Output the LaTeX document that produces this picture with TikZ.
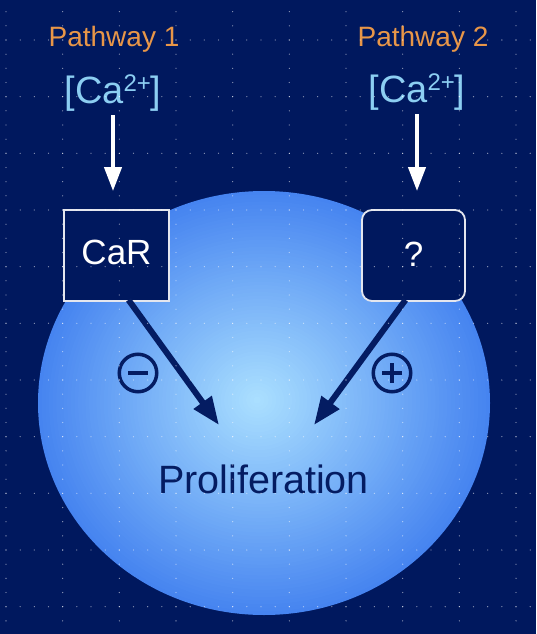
\documentclass[tikz,border=0pt]{standalone}
\usepackage{fontspec}
\setmainfont{Liberation Sans}
\usetikzlibrary{arrows.meta}
\definecolor{bgnavy}{RGB}{0,24,94}
\definecolor{ballout}{RGB}{70,132,240}
\definecolor{ballin}{RGB}{170,223,255}
\definecolor{orangetxt}{RGB}{232,150,72}
\definecolor{iontxt}{RGB}{140,206,242}
\definecolor{darkink}{RGB}{4,28,98}
\definecolor{boxline}{RGB}{228,230,238}
\newcommand\supion[1]{\raisebox{12pt}{\fontsize{24}{24}\selectfont #1}}
\begin{document}
\begin{tikzpicture}[x=1pt,y=-1pt,
  title/.style={font=\fontsize{28}{28}\selectfont, text=orangetxt, inner sep=0pt, anchor=base},
  ion/.style={font=\fontsize{38}{38}\selectfont, text=iontxt, inner sep=0pt, anchor=base},
  boxA/.style={draw=boxline, line width=1.8pt, fill=bgnavy, minimum width=105pt, minimum height=91pt, inner sep=0pt},
  boxB/.style={boxA, rounded corners=10pt, minimum width=103pt},
  boxtxt/.style={font=\fontsize{35}{35}\selectfont, text=white},
  prolif/.style={font=\fontsize{39.5}{39.5}\selectfont, text=darkink, inner sep=0pt, anchor=base},
  warrow/.style={draw=white, line width=4pt, -{Triangle[length=24pt, width=17pt]}},
  darrow/.style={draw=darkink, line width=6pt, -{Triangle[length=28pt, width=21pt]}},
  sign/.style={circle, draw=darkink, line width=3.5pt, minimum size=37.5pt, inner sep=0pt},
  signbar/.style={draw=darkink, line width=4pt},
  griddot/.style={fill=white, fill opacity=0.55}
]
\fill[bgnavy] (0,0) rectangle (536,634);
\useasboundingbox (0,0) rectangle (536,634);
% cell: stepped radial gradient
\foreach \i in {0,...,59}{
  \pgfmathsetmacro{\s}{1-\i/60}
  \pgfmathsetmacro{\p}{100*\i/59}
  \pgfmathsetmacro{\cx}{264-7*\i/60}
  \pgfmathsetmacro{\cy}{403-3*\i/60}
  \fill[ballin!\p!ballout] (\cx,\cy) ellipse [x radius={226*\s}, y radius={212*\s}];
}
% labels
\node[title] (p1) at (114,47) {Pathway 1};
\node[title] (p2) at (423,47) {Pathway 2};
\node[ion] (ca1) at (113,103) {[Ca\supion{2+}]};
\node[ion] (ca2) at (417,102) {[Ca\supion{2+}]};
% boxes
\node[boxA] (car) at (116.5,255.5) {};
\node[boxtxt, anchor=base] (cartxt) at (116.5,264.5) {CaR};
\node[boxB] (q) at (413.5,255.5) {};
\node[boxtxt, anchor=base] (qtxt) at (413.5,266) {?};
% white arrows
\draw[warrow, shorten <=4pt, shorten >=18pt] (ca1.south) -- (ca1.south |- car.north);
\draw[warrow, shorten <=4pt, shorten >=18pt] (ca2.south) -- (ca2.south |- q.north);
% proliferation
\node[prolif] (pro) at (263.5,493) {Proliferation};
\coordinate (t1) at (219,425);
\coordinate (t2) at (314,425);
\draw[darrow] ([xshift=12pt,yshift=2pt]car.south) -- (t1);
\draw[darrow] ([xshift=-8pt,yshift=2pt]q.south) -- (t2);
% signs
\node[sign] (minus) at (138,373) {};
\draw[signbar] ([xshift=-10pt]minus.center) -- ([xshift=10pt]minus.center);
\node[sign] (plus) at (392,373) {};
\draw[signbar] ([xshift=-10pt]plus.center) -- ([xshift=10pt]plus.center);
\draw[signbar] ([yshift=-10pt]plus.center) -- ([yshift=10pt]plus.center);
% dotted grid
\foreach \k in {0,...,10}{
  \foreach \j in {0,...,37}{
    \fill[griddot] ({6+14.167*\j},{40+56.667*\k}) circle (0.65pt);
  }
}
\foreach \i in {0,...,9}{
  \foreach \j in {0,...,44}{
    \fill[griddot] ({6+56.667*\i},{-2.5+14.167*\j}) circle (0.65pt);
  }
}
\end{tikzpicture}
\end{document}
